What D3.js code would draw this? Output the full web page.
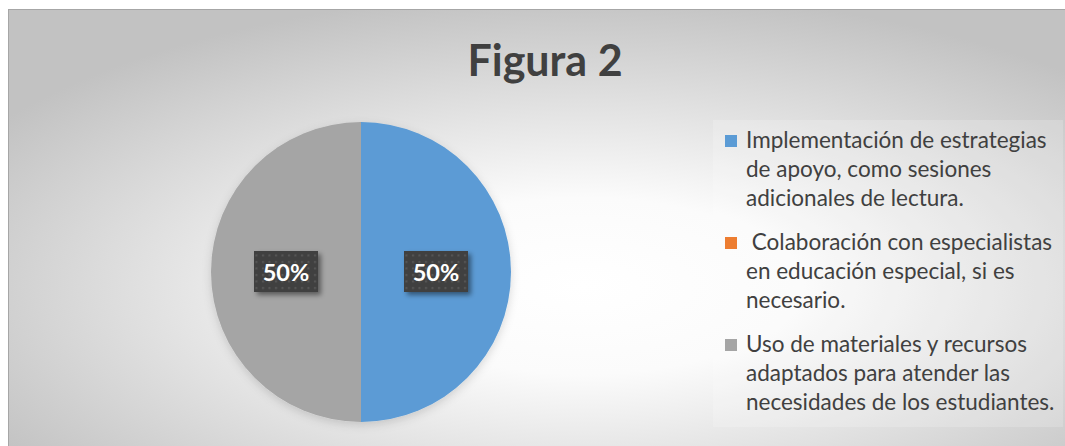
<!DOCTYPE html>
<html>
<head>
<meta charset="utf-8">
<script src="https://cdn.jsdelivr.net/npm/d3@7"></script>
<style>
  body { margin: 0; background: #fff; }
  svg { display: block; }
</style>
</head>
<body>
<script>
// data
var title = 'Figura 2';
var categories = [
  'Implementación de estrategias\nde apoyo, como sesiones\nadicionales de lectura.',
  ' Colaboración con especialistas\nen educación especial, si es\nnecesario.',
  'Uso de materiales y recursos\nadaptados para atender las\nnecesidades de los estudiantes.'
];
var values = [50, 0, 50];
var colors = ['#5b9bd5', '#ed7d31', '#a5a5a5'];

var W = 1065, H = 446;
var cx = 361, cy = 272, radius = 150;

var svg = d3.select('body').append('svg')
  .attr('width', W)
  .attr('height', H);

var defs = svg.append('defs');

var bg = defs.append('radialGradient')
  .attr('id', 'bg')
  .attr('cx', '0.54').attr('cy', '0.62')
  .attr('r', '0.66');
bg.append('stop').attr('offset', '0').attr('stop-color', '#ffffff');
bg.append('stop').attr('offset', '0.3').attr('stop-color', '#fbfbfb');
bg.append('stop').attr('offset', '1').attr('stop-color', '#c2c2c2');

var pat = defs.append('pattern')
  .attr('id', 'dots')
  .attr('width', 6.5).attr('height', 6.5)
  .attr('patternUnits', 'userSpaceOnUse');
pat.append('rect').attr('width', 6.5).attr('height', 6.5).attr('fill', '#404040');
pat.append('rect').attr('x', 2).attr('y', 2).attr('width', 2).attr('height', 2).attr('fill', '#575757');

var sh = defs.append('filter').attr('id', 'shadow')
  .attr('x', '-30%').attr('y', '-30%').attr('width', '160%').attr('height', '160%');
sh.append('feDropShadow')
  .attr('dx', 3).attr('dy', 3).attr('stdDeviation', 2.5)
  .attr('flood-color', '#000').attr('flood-opacity', 0.45);

var pieShadow = defs.append('filter').attr('id', 'pieshadow')
  .attr('x', '-20%').attr('y', '-20%').attr('width', '140%').attr('height', '140%');
pieShadow.append('feDropShadow')
  .attr('dx', 0).attr('dy', 3).attr('stdDeviation', 5)
  .attr('flood-color', '#000').attr('flood-opacity', 0.15);

// chart area
svg.append('rect')
  .attr('x', 8.5).attr('y', 9.5)
  .attr('width', W).attr('height', H)
  .attr('fill', 'url(#bg)')
  .attr('stroke', '#a6a6a6')
  .attr('stroke-width', 1);

// title
svg.append('text')
  .attr('x', 545).attr('y', 76)
  .attr('text-anchor', 'middle')
  .style('font-family', 'Lato, sans-serif')
  .style('font-weight', 'bold')
  .style('font-size', '43px')
  .style('fill', '#404040')
  .text(title);

// pie
var pie = d3.pie().sort(null).value(function(d){ return d; });
var arcs = pie(values);
var arc = d3.arc().innerRadius(0).outerRadius(radius);
var labelArc = d3.arc().innerRadius(0).outerRadius(radius);

var g = svg.append('g')
  .attr('transform', 'translate(' + cx + ',' + cy + ')');

g.append('g')
  .attr('filter', 'url(#pieshadow)')
  .selectAll('path')
  .data(arcs)
  .enter()
  .append('path')
  .attr('d', arc)
  .style('fill', function(d, i){ return colors[i]; });

var labels = g.selectAll('.lbl')
  .data(arcs.filter(function(d){ return d.value > 0; }))
  .enter()
  .append('g')
  .attr('class', 'lbl')
  .attr('transform', function(d){
    var c = labelArc.centroid(d);
    return 'translate(' + c[0] + ',' + c[1] + ')';
  });
labels.append('rect')
  .attr('x', -32).attr('y', -21)
  .attr('width', 64).attr('height', 41)
  .attr('fill', 'url(#dots)')
  .attr('filter', 'url(#shadow)');
labels.append('text')
  .attr('text-anchor', 'middle')
  .attr('y', 8.5)
  .style('font-family', 'Lato, sans-serif')
  .style('font-weight', 'bold')
  .style('font-size', '23.5px')
  .style('fill', '#fff')
  .text(function(d){ return d3.format('.0%')(d.value / d3.sum(values)); });

// legend
svg.append('rect')
  .attr('x', 713).attr('y', 120)
  .attr('width', 350).attr('height', 307)
  .attr('fill', '#fff')
  .attr('fill-opacity', 0.18);

var legend = svg.selectAll('.leg')
  .data(categories)
  .enter()
  .append('g')
  .attr('class', 'leg')
  .attr('transform', function(d, i){ return 'translate(725,' + (148 + i * 102) + ')'; });

legend.append('rect')
  .attr('x', 0).attr('y', -13)
  .attr('width', 12).attr('height', 12)
  .style('fill', function(d, i){ return colors[i]; });

legend.append('text')
  .style('font-family', 'Lato, sans-serif')
  .style('font-size', '22.5px')
  .style('fill', '#404040')
  .style('white-space', 'pre')
  .selectAll('tspan')
  .data(function(d){ return d.split('\n'); })
  .enter()
  .append('tspan')
  .attr('x', 21)
  .attr('y', function(d, i){ return i * 29; })
  .attr('xml:space', 'preserve')
  .text(function(d){ return d; });
</script>
</body>
</html>
